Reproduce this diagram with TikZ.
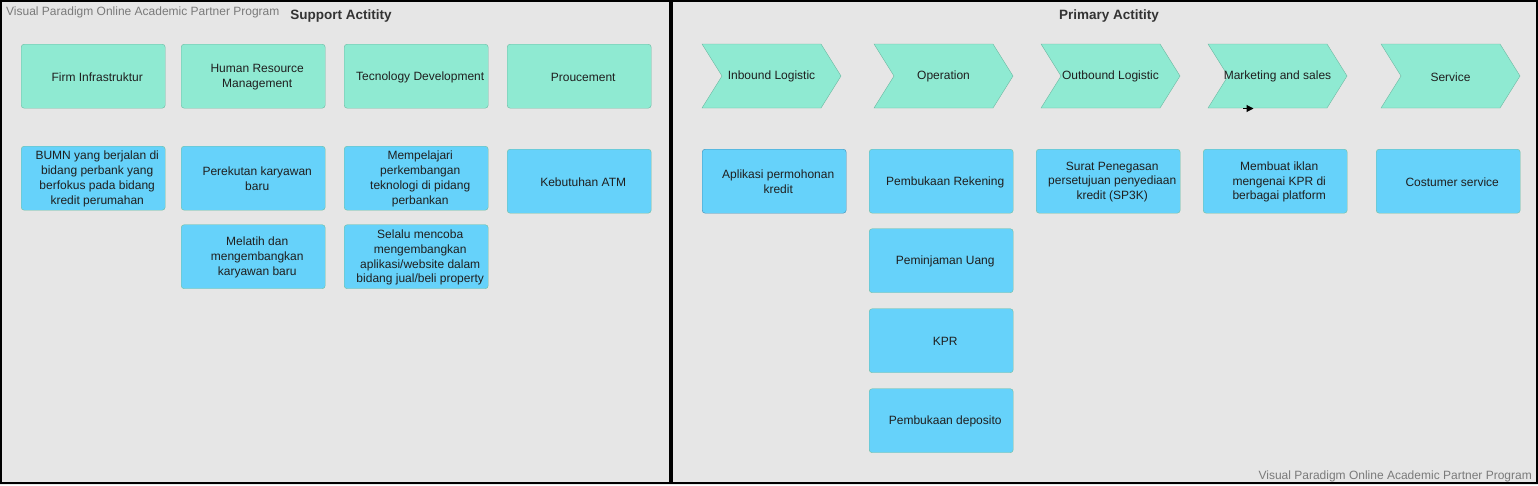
\documentclass[tikz,border=0pt]{standalone}
\usepackage{fontspec}
\setmainfont{Liberation Sans}
\usetikzlibrary{arrows.meta}
\definecolor{bg}{HTML}{E6E6E6}
\definecolor{mint}{HTML}{8FEAD2}
\definecolor{mintline}{HTML}{6DB9A2}
\definecolor{sky}{HTML}{66D2FA}
\definecolor{skyline}{HTML}{72BFA0}
\definecolor{skydark}{HTML}{3D8DB5}
\definecolor{txt}{HTML}{1F1F1F}
\definecolor{wm}{HTML}{7A7A7A}
\tikzset{
  frame/.style={draw=black, line width=2pt, fill=bg},
  topbox/.style={draw=mintline, fill=mint, rounded corners=3pt, minimum width=144pt, minimum height=64pt, anchor=north west, inner sep=0pt},
  subbox/.style={draw=skyline, fill=sky, rounded corners=3pt, minimum width=144pt, minimum height=64pt, anchor=north west, inner sep=0pt},
  subboxdark/.style={subbox, draw=skydark},
  chevshape/.style={draw=mintline, fill=mint, line join=miter},
  lbl/.style={text=txt, align=center, inner sep=0pt, font=\fontsize{12}{14.8}\selectfont},
  title/.style={text=black!80, font=\bfseries\fontsize{13.5}{16}\selectfont, inner sep=0pt},
  water/.style={text=wm, font=\fontsize{12}{14}\selectfont, inner sep=0pt}
}
\newcommand{\bx}[5]{\node[#4] (#1) at (#2,#3) {};
  \node[lbl] (#1-t) at ([xshift=4pt,yshift=-0.8pt]#1.center) {#5};}
\newcommand{\chev}[3]{%
  \draw[chevshape] (#1,44) -- ({#1+119},44) -- ({#1+139},76) -- ({#1+119},108) -- (#1,108) -- ({#1+20},76) -- cycle;
  \node[lbl] (#2) at ({#1+69.5},76.8) {#3};}
\begin{document}
\begin{tikzpicture}[x=1pt,y=-1pt]
\useasboundingbox (0,0) rectangle (1538,485);
\fill[bg] (0,0) rectangle (1538,485);
\draw[frame] (1,1) rectangle (670,483);
\draw[frame] (672,1) rectangle (1536.5,483);
\node[water, anchor=west] (wm1) at (6,12) {Visual Paradigm Online Academic Partner Program};
\node[water, anchor=east] (wm2) at (1532,476) {Visual Paradigm Online Academic Partner Program};
\node[title] (sup) at (341,16.5) {Support Actitity};
\node[title] (pri) at (1109,16.5) {Primary Actitity};
% support activities
\bx{firm}{21}{44}{topbox}{Firm Infrastruktur}
\bx{hrm}{181}{44}{topbox}{Human Resource\\Management}
\bx{tech}{344}{44}{topbox}{Tecnology Development}
\bx{proc}{507}{44}{topbox}{Proucement}
\bx{s1}{21}{146}{subbox}{BUMN yang berjalan di\\bidang perbank yang\\berfokus pada bidang\\kredit perumahan}
\bx{s2}{181}{146}{subbox}{Perekutan karyawan\\baru}
\bx{s3}{181}{224.5}{subbox}{Melatih dan\\mengembangkan\\karyawan baru}
\bx{s4}{344}{146}{subbox}{Mempelajari\\perkembangan\\teknologi di pidang\\perbankan}
\bx{s5}{344}{224.5}{subbox}{Selalu mencoba\\mengembangkan\\aplikasi/website dalam\\bidang jual/beli property}
\bx{s6}{507}{149}{subbox}{Kebutuhan ATM}
% primary activities
\chev{702}{inb}{Inbound Logistic}
\chev{874}{ope}{Operation}
\chev{1041}{outb}{Outbound Logistic}
\chev{1208}{mkt}{Marketing and sales}
\chev{1381}{srv}{Service}
\bx{p1}{702}{149}{subboxdark}{Aplikasi permohonan\\kredit}
\bx{p2}{869}{149}{subbox}{Pembukaan Rekening}
\bx{p3}{869}{228.5}{subbox}{Peminjaman Uang}
\bx{p4}{869}{308.5}{subbox}{KPR}
\bx{p5}{869}{388.5}{subbox}{Pembukaan deposito}
\bx{p6}{1036}{149}{subbox}{Surat Penegasan\\persetujuan penyediaan\\kredit (SP3K)}
\bx{p7}{1203}{149}{subbox}{Membuat iklan\\mengenai KPR di\\berbagai platform}
\bx{p8}{1376}{149}{subbox}{Costumer service}
% stray arrow tip
\coordinate (ar1) at (1243,108.5);
\coordinate (ar2) at (1253.5,108.5);
\draw[black, line width=1pt, -{Triangle[length=7pt,width=7pt]}] (ar1) -- (ar2);
\end{tikzpicture}
\end{document}
